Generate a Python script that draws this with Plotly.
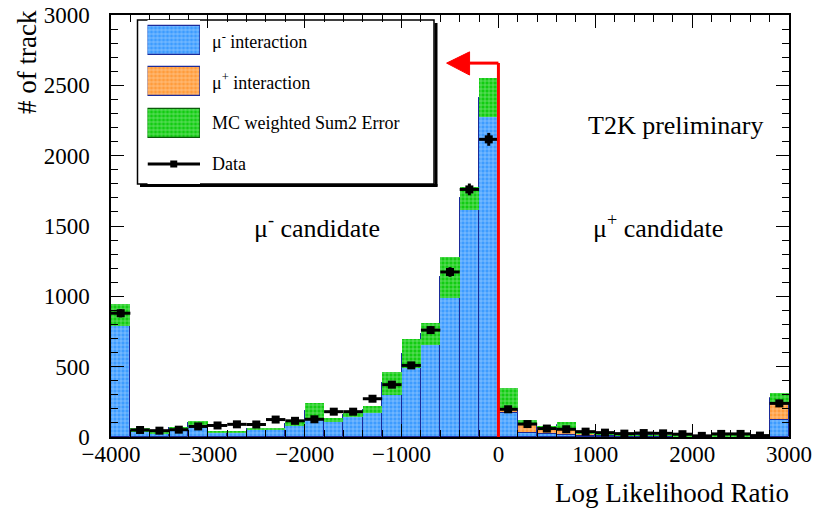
import numpy as np
import plotly.graph_objects as go

# ---------------- data ----------------
bin_width = 200
bin_centers = list(range(-3900, 3000, 200))  # 35 bins, -4000..3000

mu_minus = [868, 48, 28, 61, 100, 38, 34, 56, 57, 92, 187, 123, 154, 194, 381, 591, 731, 1134,
            1697, 2413, 170, 26, 18, 15, 8, 7, 6, 5, 4, 3, 2, 3, 3, 2, 123]
mu_plus = [0, 0, 0, 0, 0, 0, 0, 0, 0, 0, 0, 0, 0, 0, 0, 0, 0, 0,
           0, 0, 101, 79, 50, 73, 17, 12, 10, 7, 6, 5, 4, 5, 5, 3, 152]
mc_err = [78, 15, 5, 11, 16, 5, 4, 6, 6, 12, 53, 14, 14, 26, 83, 103, 77, 148,
          83, 136, 79, 15, 4, 22, 3, 3, 3, 2, 2, 2, 1, 2, 2, 1, 36]
data = [880, 50, 45, 52, 75, 82, 90, 89, 124, 115, 126, 180, 180, 272, 372, 509, 760, 1173,
        1760, 2116, 197, 92, 60, 55, 38, 31, 24, 28, 26, 20, 8, 22, 22, 10, 239]

x_ticks = [-4000, -3000, -2000, -1000, 0, 1000, 2000, 3000]
y_ticks = [0, 500, 1000, 1500, 2000, 2500, 3000]
cut_value = 0
arrow_level = 2658

legend_labels = ["μ<sup>-</sup> interaction", "μ<sup>+</sup> interaction", "MC weighted Sum2 Error", "Data"]

# ---------------- styles ----------------
FONT = "Liberation Serif"
BLUE = "#3d9cff"
ORANGE = "#ff9c3c"
GREEN = "#12cc12"
NAVY = "#1a2a9a"


def pat(bg):
    return dict(shape="+", fgcolor="white", bgcolor=bg, size=4, solidity=0.28, fillmode="overlay")


mm = np.array(mu_minus, float)
mp = np.array(mu_plus, float)
err = np.array(mc_err, float)
total = mm + mp

fig = go.Figure()
fig.add_trace(go.Bar(x=bin_centers, y=mm, base=0, width=bin_width,
                     marker=dict(color=BLUE, pattern=pat(BLUE), line=dict(color=NAVY, width=1)),
                     showlegend=False))
fig.add_trace(go.Bar(x=bin_centers, y=mp, base=mm, width=bin_width,
                     marker=dict(color=ORANGE, pattern=pat(ORANGE), line=dict(color=NAVY, width=1)),
                     showlegend=False))
fig.add_trace(go.Bar(x=bin_centers, y=2 * err, base=total - err, width=bin_width,
                     marker=dict(color=GREEN, pattern=pat(GREEN), line=dict(width=0)),
                     showlegend=False))
fig.add_trace(go.Scatter(x=bin_centers, y=data, mode="markers",
                         marker=dict(symbol="square", size=8, color="black"),
                         error_x=dict(type="constant", value=bin_width / 2, thickness=3, width=0, color="black"),
                         error_y=dict(type="sqrt", thickness=3, width=0, color="black"),
                         showlegend=False))

# ---------------- pixel helpers ----------------
L, R, T, B = 111, 789, 15, 437
W, H = R - L, B - T


def px(p):
    return (p - L) / W


def py(p):
    return (B - p) / H


shapes = []
# red cut line and arrow
shapes.append(dict(type="line", xref="x", yref="y", x0=cut_value, x1=cut_value, y0=0, y1=arrow_level,
                   line=dict(color="#ff0000", width=3)))
shapes.append(dict(type="line", xref="x", yref="y", x0=cut_value, x1=-300, y0=arrow_level, y1=arrow_level,
                   line=dict(color="#ff0000", width=3)))
shapes.append(dict(type="path", xref="x", yref="y",
                   path=f"M -535,{arrow_level} L -298,{arrow_level + 80} L -298,{arrow_level - 85} Z",
                   fillcolor="#ff0000", line=dict(color="#ff0000", width=1)))

# legend box with shadow (drawn below traces so the swatches show)
shapes.append(dict(type="line", xref="paper", yref="paper", x0=px(436), x1=px(436), y0=py(23), y1=py(186.5),
                   line=dict(color="black", width=3), layer="below"))
shapes.append(dict(type="line", xref="paper", yref="paper", x0=px(140), x1=px(437.5), y0=py(185.5), y1=py(185.5),
                   line=dict(color="black", width=3), layer="below"))
shapes.append(dict(type="rect", xref="paper", yref="paper", x0=px(137.5), x1=px(434), y0=py(184), y1=py(20),
                   fillcolor="white", line=dict(color="black", width=1.5), layer="below"))

annotations = []
rows = [40.5, 81.5, 123, 164]
for lab, r in zip(legend_labels, rows):
    annotations.append(dict(xref="paper", yref="paper", x=px(210), y=py(r), text=lab, showarrow=False,
                            xanchor="left", yanchor="middle", font=dict(family=FONT, size=18, color="black")))

annotations += [
    dict(xref="paper", yref="paper", x=px(675), y=py(125), text="T2K preliminary", showarrow=False,
         xanchor="center", yanchor="middle", font=dict(family=FONT, size=26, color="black")),
    dict(xref="paper", yref="paper", x=px(317), y=py(226), text="μ<sup>-</sup> candidate", showarrow=False,
         xanchor="center", yanchor="middle", font=dict(family=FONT, size=26, color="black")),
    dict(xref="paper", yref="paper", x=px(658), y=py(226), text="μ<sup>+</sup> candidate", showarrow=False,
         xanchor="center", yanchor="middle", font=dict(family=FONT, size=26, color="black")),
    dict(xref="paper", yref="paper", x=px(791), y=py(493), text="Log Likelihood Ratio", showarrow=False,
         xanchor="right", yanchor="middle", font=dict(family=FONT, size=27, color="black")),
    dict(xref="paper", yref="paper", x=px(27), y=py(62), text="# of track", showarrow=False, textangle=-90,
         xanchor="center", yanchor="middle", font=dict(family=FONT, size=27, color="black")),
]

# legend swatches drawn on an inset axis (pixel coordinates)
sw_x0, sw_x1 = 147.5, 200
fig.add_trace(go.Bar(x=[1], y=[40.5], base=0, width=29, orientation="h", xaxis="x2", yaxis="y2",
                     marker=dict(color=BLUE, pattern=pat(BLUE), line=dict(color=NAVY, width=1.2)), showlegend=False))
fig.add_trace(go.Bar(x=[1], y=[81.5], base=0, width=29, orientation="h", xaxis="x2", yaxis="y2",
                     marker=dict(color=ORANGE, pattern=pat(ORANGE), line=dict(color=NAVY, width=1.2)), showlegend=False))
fig.add_trace(go.Bar(x=[1], y=[123], base=0, width=29, orientation="h", xaxis="x2", yaxis="y2",
                     marker=dict(color=GREEN, pattern=pat(GREEN), line=dict(color="#0a5a0a", width=1.2)), showlegend=False))
fig.add_trace(go.Scatter(x=[0, 1], y=[164, 164], mode="lines", xaxis="x2", yaxis="y2",
                         line=dict(color="black", width=3), showlegend=False))
fig.add_trace(go.Scatter(x=[0.5], y=[164], mode="markers", xaxis="x2", yaxis="y2",
                         marker=dict(symbol="square", size=7, color="black"), showlegend=False))

axis_common = dict(showgrid=False, zeroline=False, showline=True, linecolor="black", linewidth=1.5,
                   mirror="ticks", ticks="inside", ticklen=13, tickwidth=1, tickcolor="black",
                   automargin=False,
                   tickfont=dict(family=FONT, size=23, color="black"))

fig.update_layout(
    width=816, height=511, autosize=False,
    margin=dict(l=L, r=816 - R, t=T, b=511 - B, pad=0),
    plot_bgcolor="white", paper_bgcolor="white",
    barmode="overlay", bargap=0, showlegend=False,
    xaxis=dict(range=[-4000, 3000], tickvals=x_ticks, ticklabelstandoff=-4,
               minor=dict(dtick=200, tick0=-4000, ticks="inside", ticklen=7, tickcolor="black", tickwidth=1),
               **axis_common),
    yaxis=dict(range=[0, 3000], tickvals=y_ticks, ticklabelstandoff=15,
               minor=dict(dtick=100, tick0=0, ticks="inside", ticklen=7, tickcolor="black", tickwidth=1),
               **axis_common),
    xaxis2=dict(domain=[px(sw_x0), px(sw_x1)], range=[0, 1], visible=False, anchor="y2", fixedrange=True),
    yaxis2=dict(domain=[py(184), py(20)], range=[184, 20], visible=False, anchor="x2", fixedrange=True),
    shapes=shapes,
    annotations=annotations,
)

fig.write_html("out.html", config={"displayModeBar": False},
               post_script="document.body.style.margin='0';document.body.style.overflow='hidden';")
